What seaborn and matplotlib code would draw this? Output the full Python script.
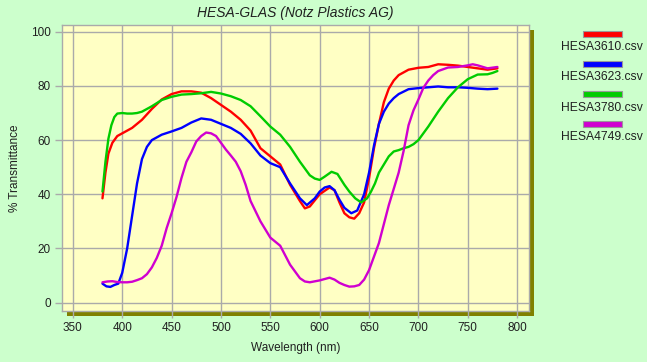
import pandas as pd
import seaborn as sns
import matplotlib.pyplot as plt
from matplotlib.patches import Rectangle

sns.set_theme(style='white')
plt.rcParams['font.family'] = ['Liberation Sans', 'DejaVu Sans']

# %% data
names = ['HESA3610.csv', 'HESA3623.csv', 'HESA3780.csv', 'HESA4749.csv']
colors = ['#ff0000', '#0000ff', '#00cc00', '#d000d0']

red_x = [380, 383, 386, 390, 395, 400, 405, 410, 420, 430, 440, 450, 460, 470, 480, 490,
         500, 510, 520, 530, 540, 550, 560, 570, 580, 585, 590, 600, 610, 615, 620, 625,
         630, 635, 640, 645, 650, 655, 660, 665, 670, 675, 680, 690, 700, 710, 720, 730,
         740, 750, 760, 770, 780]
red_y = [38.5, 48, 55, 59, 61.5, 62.5, 63.5, 64.5, 67.5, 71.5, 75, 77, 78, 78, 77.5, 75.5,
         73, 70.5, 67.5, 63.5, 57, 54, 51, 43.5, 37.5, 34.8, 35.5, 40, 42.5, 41.5, 37, 33,
         31.5, 31, 33, 37, 46, 57, 66, 74, 79, 82, 84, 86, 86.7, 87, 88, 87.8,
         87.5, 87, 86.5, 86, 86.5]

blue_x = [380, 384, 388, 392, 396, 400, 405, 410, 415, 420, 425, 430, 440, 450, 460, 470,
          480, 490, 500, 510, 520, 530, 540, 550, 560, 570, 580, 587, 595, 600, 605, 610,
          615, 620, 625, 632, 638, 645, 650, 655, 660, 665, 670, 675, 680, 690, 700, 710,
          720, 730, 740, 750, 760, 770, 780]
blue_y = [7, 6, 5.8, 6.5, 7, 11, 20, 32, 44, 53, 57.5, 60, 62, 63.2, 64.5, 66.5,
          68, 67.5, 66, 64.5, 62.3, 58.8, 54.3, 51.5, 50, 44, 38.5, 36, 38.5, 41, 42.5, 43,
          41.5, 38, 35, 33, 34, 40, 48, 58, 66, 70.5, 73.5, 75.5, 77, 78.8, 79.2, 79.5,
          79.8, 79.5, 79.5, 79.3, 79, 78.8, 79]

green_x = [380, 383, 386, 389, 392, 395, 400, 405, 410, 415, 420, 430, 440, 450, 460, 470,
           480, 490, 500, 510, 520, 530, 540, 550, 560, 570, 580, 590, 595, 600, 605, 612,
           618, 625, 630, 636, 642, 648, 652, 656, 660, 665, 670, 675, 680, 685, 690, 695,
           700, 705, 710, 720, 730, 740, 750, 760, 770, 775, 780]
green_y = [41, 52, 60.5, 65.5, 68.5, 69.8, 70, 69.8, 69.8, 70, 70.5, 72.5, 74.8, 76, 76.8, 77,
           77.3, 77.8, 77.2, 76.2, 74.8, 72.5, 68.8, 65, 62, 57.5, 52, 47, 45.8, 45.3, 46.5, 48.3,
           47.5, 43.5, 41, 38.5, 37, 38.5, 41, 44, 48, 51, 54, 55.8, 56.3, 57, 57.5, 58.5,
           60, 62.5, 65, 70.5, 75.5, 79.5, 82.5, 84.2, 84.3, 84.8, 85.5]

mag_x = [380, 385, 390, 395, 400, 405, 410, 415, 420, 425, 430, 435, 440, 445, 450, 455,
         460, 465, 470, 475, 480, 485, 490, 495, 500, 505, 510, 515, 520, 525, 530, 540,
         550, 555, 560, 570, 580, 585, 590, 600, 610, 615, 620, 625, 630, 635, 640, 645,
         650, 655, 660, 665, 670, 675, 680, 685, 690, 695, 700, 705, 710, 715, 720, 730,
         740, 750, 755, 760, 770, 780]
mag_y = [7.5, 7.8, 7.9, 7.6, 7.5, 7.5, 7.7, 8.3, 9, 10.5, 13, 16.5, 21, 27.5, 33, 39,
         46, 52, 55.5, 59.5, 61.5, 62.8, 62.5, 61.5, 59, 56.5, 54.3, 52, 48.5, 43.5, 37.5, 30,
         24, 22.5, 21, 14, 9, 7.8, 7.5, 8.2, 9.2, 8.5, 7.3, 6.5, 5.9, 6, 6.5, 8.5,
         12, 17, 22, 29, 36, 42, 48, 56, 65.5, 71, 75, 79.3, 82, 84, 85.5, 86.8,
         87, 87.6, 88, 87.6, 86.5, 87]

xticks = [350, 400, 450, 500, 550, 600, 650, 700, 750, 800]
yticks = [0, 20, 40, 60, 80, 100]
# %%
df = pd.concat([
    pd.DataFrame({'wl': red_x, 'T': red_y, 'file': names[0]}),
    pd.DataFrame({'wl': blue_x, 'T': blue_y, 'file': names[1]}),
    pd.DataFrame({'wl': green_x, 'T': green_y, 'file': names[2]}),
    pd.DataFrame({'wl': mag_x, 'T': mag_y, 'file': names[3]}),
], ignore_index=True)

W, H = 647, 362
fig = plt.figure(figsize=[W / 100, H / 100], dpi=100, facecolor='#ccffcc')
# axes box in pixels: left 62, top 25, right 529, bottom 311
ax = fig.add_axes([62 / W, (H - 311) / H, 467 / W, 286 / H], facecolor='#ffffc4')
# olive drop shadow
fig.add_artist(Rectangle((67 / W, (H - 316) / H), 467 / W, 286 / H, transform=fig.transFigure,
                         facecolor='#808000', edgecolor='none', zorder=-1))

sns.lineplot(data=df, x='wl', y='T', hue='file', palette=colors, linewidth=1.7,
             legend=False, ax=ax, sort=True)

ax.set_xlim(339, 812)
ax.set_ylim(-3.1, 102.5)
ax.set_xticks(xticks)
ax.set_yticks(yticks)
ax.grid(True, color='#aaaaaa', linewidth=1)
ax.set_axisbelow(True)
for s in ax.spines.values():
    s.set_color('#aaaaaa')
    s.set_linewidth(1)
ax.tick_params(direction='out', length=5, width=1, color='#aaaaaa', labelsize=8.5,
               labelcolor='#202020', pad=3)
ax.tick_params(axis='both', which='both', bottom=True, left=True)
ax.set_xlabel('Wavelength (nm)', fontsize=8.5, color='#202020', labelpad=6)
ax.set_ylabel('% Transmittance', fontsize=8.5, color='#202020', labelpad=7)
ax.set_title('HESA-GLAS (Notz Plastics AG)', fontsize=10, style='italic', color='#202020', pad=6)

# legend: swatch above each file name
for i, (n, c) in enumerate(zip(names, colors)):
    yc = 33.5 + 30 * i
    fig.add_artist(Rectangle((583 / W, (H - yc - 3) / H), 39 / W, 6 / H, transform=fig.transFigure,
                             facecolor=c, edgecolor='#999999', linewidth=0.8))
    fig.text(602 / W, (H - yc - 14) / H, n, ha='center', va='center', fontsize=8.7, color='#202020')

plt.savefig('out.png', dpi=100, facecolor=fig.get_facecolor())
